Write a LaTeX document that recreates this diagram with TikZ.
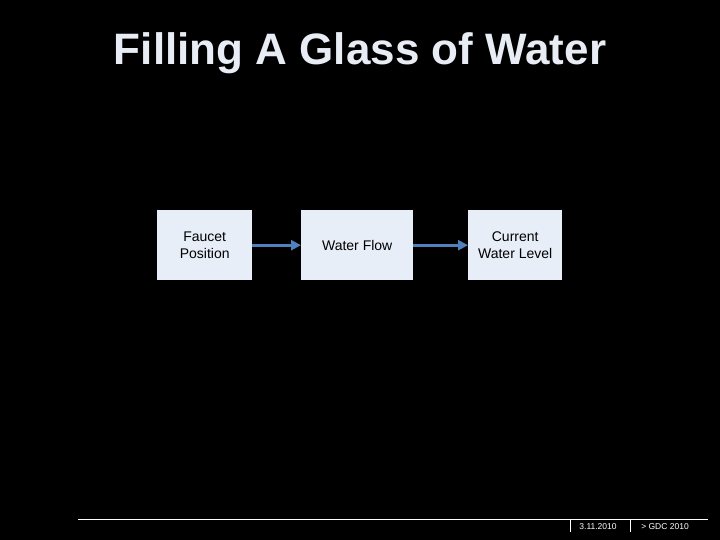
\documentclass[tikz,border=0pt]{standalone}
\usepackage{fontspec}
\setmainfont{Liberation Sans}
\usetikzlibrary{arrows.meta}
\definecolor{boxfill}{HTML}{E8EEF7}
\definecolor{titlecol}{HTML}{E8ECF4}
\definecolor{arrowcol}{HTML}{4F81BD}
\tikzset{
  block/.style={rectangle, fill=boxfill, draw=none, align=center, font=\fontsize{14}{17}\selectfont, text=black, anchor=north west, inner sep=0pt},
  flow/.style={draw=arrowcol, line width=2.6pt, -{Triangle[length=10pt,width=10pt]}},
  foot/.style={text=white, font=\fontsize{8.5}{10}\selectfont, inner sep=0pt}
}
\begin{document}
\begin{tikzpicture}[x=1pt,y=-1pt]
\fill[black] (0,0) rectangle (720,540);
\useasboundingbox (0,0) rectangle (720,540);
\node[text=titlecol, font=\bfseries\fontsize{44}{50}\selectfont, inner sep=0pt] (title) at (360,53) {Filling A Glass of Water};
\node[block, minimum width=95pt, minimum height=70pt] (fp) at (157,210) {Faucet\\Position};
\node[block, minimum width=112pt, minimum height=70pt] (wf) at (301,210) {Water Flow};
\node[block, minimum width=94pt, minimum height=70pt] (cwl) at (468,210) {Current\\Water Level};
\draw[flow] (fp.east) -- (wf.west);
\draw[flow] (wf.east) -- (cwl.west);
\coordinate (l1) at (78,519);
\coordinate (l2) at (708,519);
\draw[white, line width=1pt] (l1) -- (l2);
\coordinate (t1) at (570,519);
\coordinate (t1b) at (570,532);
\coordinate (t2) at (630,519);
\coordinate (t2b) at (630,532);
\draw[white, line width=0.8pt] (t1) -- (t1b);
\draw[white, line width=0.8pt] (t2) -- (t2b);
\node[foot] (date) at (598,527) {3.11.2010};
\node[foot] (gdc) at (665,527) {> GDC 2010};
\end{tikzpicture}
\end{document}
